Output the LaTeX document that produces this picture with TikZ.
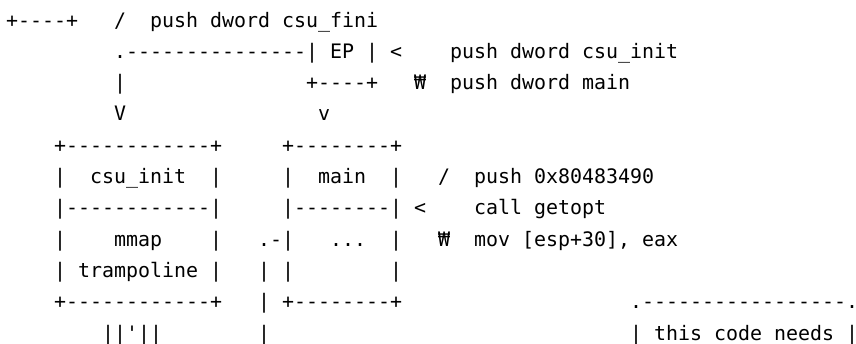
\documentclass[tikz,border=0pt]{standalone}
\usepackage{fontspec}
\setmonofont{DejaVu Sans Mono}

\begin{document}
\begin{tikzpicture}[
    asc/.style={anchor=base west, inner sep=0pt, font=\ttfamily\fontsize{19.93pt}{24pt}\selectfont},
    x=12pt, y=-31.3pt
]
    \useasboundingbox (-6pt,27pt) rectangle (850pt,-316pt);

    % 上部: EP 与三条 push
    \node[asc] (TOPBOX) at (0, 0) {+----+};
    \node[asc] (S1) at (9, 0) {/};
    \node[asc] (FINI) at (12, 0) {push dword csu\_fini};
    \node[asc] (EP) at (9, 1) {.---------------| EP | <};
    \node[asc] (PINIT) at (37, 1) {push dword csu\_init};
    \node[asc] (L1) at (9, 2) {|};
    \node[asc] (EPB) at (25, 2) {+----+};
    \node[asc] (B1) at (34, 2) {₩};
    \node[asc] (PMAIN) at (37, 2) {push dword main};
    \node[asc] (AR1) at (9, 3) {V};
    \node[asc] (AR2) at (26, 3) {v};

    % 左框 csu_init
    \node[asc] (CI1) at (4, 4) {+------------+};
    \node[asc] (CI2) at (4, 5) {|~~csu\_init~~|};
    \node[asc] (CI3) at (4, 6) {|------------|};
    \node[asc] (CI4) at (4, 7) {|~~~~mmap~~~~|};
    \node[asc] (CI5) at (4, 8) {| trampoline |};
    \node[asc] (CI6) at (4, 9) {+------------+};
    \node[asc] (CI7) at (8, 10) {||'||};

    % 中框 main
    \node[asc] (MN1) at (23, 4) {+--------+};
    \node[asc] (MN2) at (23, 5) {|~~main~~|};
    \node[asc] (MN3) at (23, 6) {|--------|};
    \node[asc] (MN4) at (21, 7) {.-|~~~...~~|};
    \node[asc] (MN5) at (21, 8) {|~|};
    \node[asc] (MN6) at (32, 8) {|};
    \node[asc] (MN7) at (21, 9) {|};
    \node[asc] (MN8) at (23, 9) {+--------+};
    \node[asc] (MN9) at (21, 10) {|};

    % main 内的指令
    \node[asc] (S2) at (36, 5) {/};
    \node[asc] (PUSH) at (39, 5) {push 0x80483490};
    \node[asc] (LT) at (34, 6) {<};
    \node[asc] (CALL) at (39, 6) {call getopt};
    \node[asc] (B2) at (36, 7) {₩};
    \node[asc] (MOV) at (39, 7) {mov [esp+30], eax};

    % 右下注释框
    \node[asc] (NT1) at (52, 9) {.-----------------.};
    \node[asc] (NT2) at (52, 10) {|~this code needs~|};

\end{tikzpicture}
\end{document}
